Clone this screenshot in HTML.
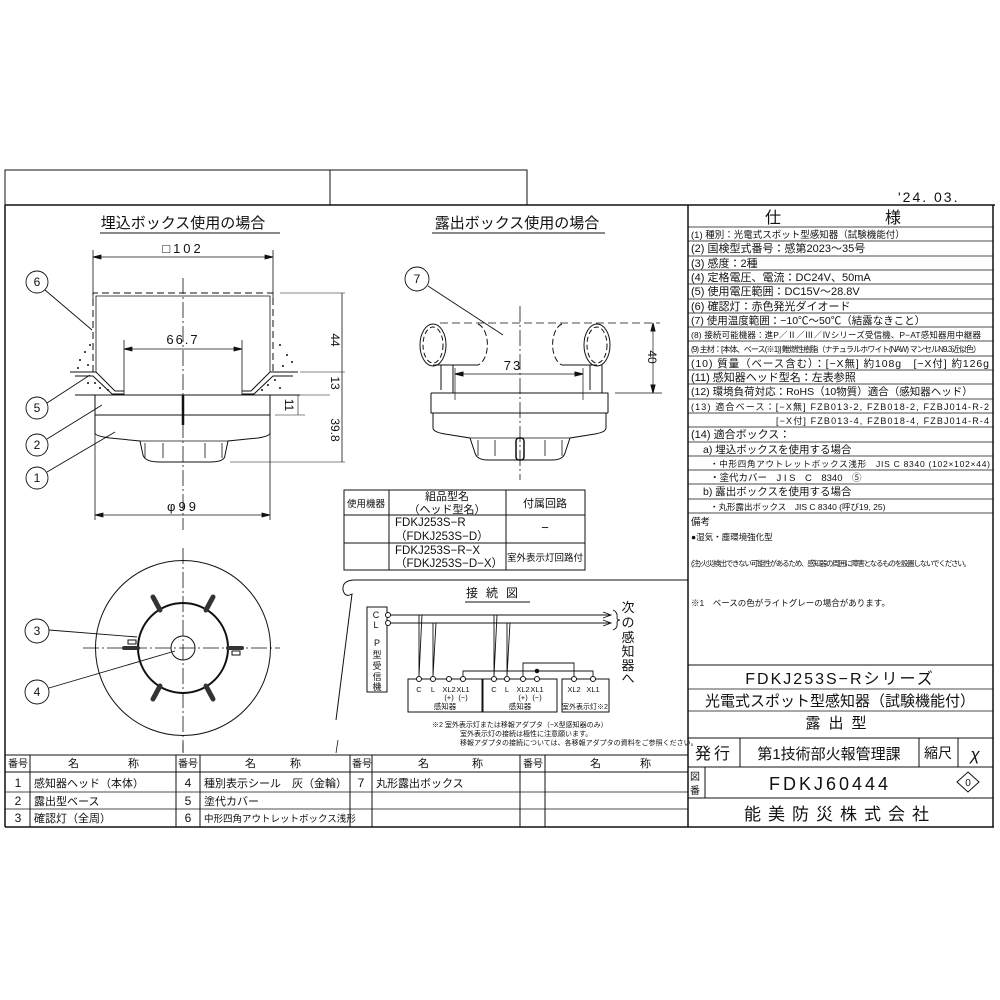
<!DOCTYPE html>
<html><head><meta charset="utf-8"><style>
html,body{margin:0;padding:0;background:#fff}
svg{display:block}
text{font-family:"Liberation Sans","Noto Sans CJK JP",sans-serif;fill:#111}
.s{font-size:10.5px}
.m{font-size:11px}
</style></head><body>
<svg width="1000" height="1000" viewBox="0 0 1000 1000" xmlns="http://www.w3.org/2000/svg" stroke="#111" fill="none" stroke-width="1">
<rect x="5" y="170" width="325" height="35"/>
<rect x="330" y="170" width="197" height="35"/>
<text x="898" y="202" font-size="14" stroke="none" letter-spacing="2">'24. 03.</text>
<line x1="5" y1="205" x2="995" y2="205" stroke-width="1.5"/>
<line x1="5" y1="205" x2="5" y2="827" stroke-width="1.5"/>
<line x1="5" y1="827" x2="994" y2="827" stroke-width="1.5"/>
<line x1="993" y1="205" x2="993" y2="827" stroke-width="1.5"/>
<line x1="688" y1="205" x2="688" y2="827" stroke-width="1.5"/>

<text x="765" y="223" font-size="16" stroke="none">仕</text>
<text x="885" y="223" font-size="16" stroke="none">様</text>
<g stroke-width="0.8">
<line x1="688" y1="227" x2="993" y2="227"/><line x1="688" y1="241" x2="993" y2="241"/><line x1="688" y1="256" x2="993" y2="256"/><line x1="688" y1="270" x2="993" y2="270"/><line x1="688" y1="284" x2="993" y2="284"/><line x1="688" y1="299" x2="993" y2="299"/><line x1="688" y1="313" x2="993" y2="313"/><line x1="688" y1="327" x2="993" y2="327"/><line x1="688" y1="341" x2="993" y2="341"/><line x1="688" y1="356" x2="993" y2="356"/><line x1="688" y1="370" x2="993" y2="370"/><line x1="688" y1="384" x2="993" y2="384"/><line x1="688" y1="399" x2="993" y2="399"/><line x1="688" y1="413" x2="993" y2="413"/><line x1="688" y1="427" x2="993" y2="427"/><line x1="688" y1="442" x2="993" y2="442"/><line x1="688" y1="456" x2="993" y2="456"/><line x1="688" y1="470" x2="993" y2="470"/><line x1="688" y1="484" x2="993" y2="484"/><line x1="688" y1="499" x2="993" y2="499"/><line x1="688" y1="513" x2="993" y2="513"/>
</g>
<g stroke="none" class="s">
<text x="691" y="238" font-size="9.5">(1) 種別：光電式スポット型感知器（試験機能付）</text>
<text x="691" y="252" font-size="11">(2) 国検型式番号：感第2023～35号</text>
<text x="691" y="267" font-size="11">(3) 感度：2種</text>
<text x="691" y="281" font-size="11">(4) 定格電圧、電流：DC24V、50mA</text>
<text x="691" y="295" font-size="11">(5) 使用電圧範囲：DC15V～28.8V</text>
<text x="691" y="310" font-size="11">(6) 確認灯：赤色発光ダイオード</text>
<text x="691" y="324">(7) 使用温度範囲：−10℃～50℃（結露なきこと）</text>
<text x="691" y="338" font-size="8.5" textLength="290">(8) 接続可能機器：進P／Ⅱ／Ⅲ／Ⅳシリーズ受信機、P−AT感知器用中継器</text>
<text x="691" y="352" font-size="8" textLength="290">(9) 主材：[本体、ベース(※1)] 難燃性樹脂（ナチュラルホワイト(NAW) マンセルN9.3近似色）</text>
<text x="691" y="367" textLength="298">(10) 質量（ベース含む）：[−X無] 約108g　[−X付] 約126g</text>
<text x="691" y="381" font-size="11">(11) 感知器ヘッド型名：左表参照</text>
<text x="691" y="395">(12) 環境負荷対応：RoHS（10物質）適合（感知器ヘッド）</text>
<text x="691" y="410" font-size="9" textLength="298">(13) 適合ベース：[−X無] FZB013-2, FZB018-2, FZBJ014-R-2</text>
<text x="776" y="424" font-size="9" textLength="213">[−X付] FZB013-4, FZB018-4, FZBJ014-R-4</text>
<text x="691" y="438" font-size="11">(14) 適合ボックス：</text>
<text x="703" y="453">a) 埋込ボックスを使用する場合</text>
<text x="710" y="467" font-size="8.5" textLength="280">・中形四角アウトレットボックス浅形　JIS C 8340 (102×102×44)</text>
<text x="710" y="481" font-size="9.5">・塗代カバー　J I S　C　8340　⑤</text>
<text x="703" y="495">b) 露出ボックスを使用する場合</text>
<text x="710" y="510" font-size="8.5">・丸形露出ボックス　JIS C 8340 (呼び19, 25)</text>
<text x="691" y="525" font-size="9.5">備考</text>
<text x="691" y="540" font-size="8.5">●湿気・塵環境強化型</text>
<text x="691" y="566" font-size="7.5" textLength="280">(注) 火災検出できない可能性があるため、感知器の周囲に障害となるものを設置しないでください。</text>
<text x="691" y="606" font-size="8.5">※1　ベースの色がライトグレーの場合があります。</text>
</g>
<g stroke-width="1">
<line x1="688" y1="665" x2="993" y2="665"/>
<line x1="688" y1="689" x2="993" y2="689" stroke-width="0.8"/>
<line x1="688" y1="711" x2="993" y2="711" stroke-width="0.8"/>
<line x1="688" y1="738" x2="993" y2="738"/>
<line x1="688" y1="767" x2="993" y2="767"/>
<line x1="688" y1="798" x2="993" y2="798"/>
<line x1="740" y1="738" x2="740" y2="767"/>
<line x1="919" y1="738" x2="919" y2="767"/>
<line x1="958" y1="738" x2="958" y2="767"/>
<line x1="705" y1="767" x2="705" y2="798"/>
<path d="M968 772 L979 782 L968 792 L957 782 Z"/>
</g>
<g stroke="none">
<text x="840" y="684" font-size="16" text-anchor="middle" letter-spacing="2">FDKJ253S−Rシリーズ</text>
<text x="840" y="706" font-size="15" text-anchor="middle">光電式スポット型感知器（試験機能付）</text>
<text x="840" y="728" font-size="15" text-anchor="middle" letter-spacing="8">露出型</text>
<text x="714" y="759" font-size="16" text-anchor="middle" letter-spacing="3">発行</text>
<text x="829" y="759" font-size="15" text-anchor="middle">第1技術部火報管理課</text>
<text x="938" y="758" font-size="14" text-anchor="middle">縮尺</text>
<text x="975" y="760" font-size="17" text-anchor="middle" font-style="italic">χ</text>
<text x="690" y="780" font-size="10">図</text>
<text x="690" y="794" font-size="10">番</text>
<text x="830" y="790" font-size="18" text-anchor="middle" letter-spacing="3">FDKJ60444</text>
<text x="968" y="786" font-size="10" text-anchor="middle">0</text>
<text x="840" y="820" font-size="17" text-anchor="middle" letter-spacing="7">能美防災株式会社</text>
</g>

<g stroke-width="1">
<line x1="5" y1="755" x2="688" y2="755"/>
<line x1="5" y1="772" x2="688" y2="772"/>
<line x1="5" y1="792" x2="688" y2="792" stroke-width="0.8"/>
<line x1="5" y1="809" x2="688" y2="809" stroke-width="0.8"/>
<line x1="30" y1="755" x2="30" y2="827"/><line x1="176" y1="755" x2="176" y2="827"/>
<line x1="200" y1="755" x2="200" y2="827"/><line x1="350" y1="755" x2="350" y2="827"/>
<line x1="372" y1="755" x2="372" y2="827"/><line x1="520" y1="755" x2="520" y2="827"/>
<line x1="545" y1="755" x2="545" y2="827"/>
</g>
<g stroke="none" class="m">
<text x="8" y="767" font-size="10">番号</text><text x="68" y="767">名</text><text x="128" y="767">称</text>
<text x="178" y="767" font-size="10">番号</text><text x="245" y="767">名</text><text x="290" y="767">称</text>
<text x="352" y="767" font-size="10">番号</text><text x="418" y="767">名</text><text x="472" y="767">称</text>
<text x="523" y="767" font-size="10">番号</text><text x="590" y="767">名</text><text x="640" y="767">称</text>
<text x="18" y="787" font-size="12" text-anchor="middle">1</text><text x="34" y="787">感知器ヘッド（本体）</text>
<text x="18" y="805" font-size="12" text-anchor="middle">2</text><text x="34" y="805">露出型ベース</text>
<text x="18" y="822" font-size="12" text-anchor="middle">3</text><text x="34" y="822">確認灯（全周）</text>
<text x="188" y="787" font-size="12" text-anchor="middle">4</text><text x="204" y="787">種別表示シール　灰（金輪）</text>
<text x="188" y="805" font-size="12" text-anchor="middle">5</text><text x="204" y="805">塗代カバー</text>
<text x="188" y="822" font-size="12" text-anchor="middle">6</text><text x="204" y="822" font-size="9.5">中形四角アウトレットボックス浅形</text>
<text x="361" y="787" font-size="12" text-anchor="middle">7</text><text x="376" y="787">丸形露出ボックス</text>
</g>

<g stroke="none">
<text x="183" y="228" font-size="15" text-anchor="middle">埋込ボックス使用の場合</text>
<text x="183" y="253" font-size="13" text-anchor="middle" letter-spacing="3">□102</text>
<text x="183" y="344" font-size="13" text-anchor="middle" letter-spacing="2">66.7</text>
<text x="183" y="511" font-size="13" text-anchor="middle" letter-spacing="3">φ99</text>
<text x="517" y="228" font-size="15" text-anchor="middle">露出ボックス使用の場合</text>
<text x="513" y="370" font-size="13" text-anchor="middle" letter-spacing="2">73</text>
</g>
<line x1="100" y1="233" x2="280" y2="233"/>
<line x1="432" y1="233" x2="605" y2="233"/>
<g stroke-width="0.8">
<line x1="93" y1="250" x2="93" y2="300"/><line x1="273" y1="250" x2="273" y2="300"/>
<line x1="93" y1="257" x2="273" y2="257"/>
<path d="M93 257 l8 -2 v4 z M273 257 l-8 -2 v4 z" fill="#111"/>
<line x1="124" y1="340" x2="124" y2="395"/><line x1="242" y1="340" x2="242" y2="395"/>
<line x1="124" y1="349" x2="242" y2="349"/>
<path d="M124 349 l8 -2 v4 z M242 349 l-8 -2 v4 z" fill="#111"/>
<line x1="95" y1="420" x2="95" y2="520"/><line x1="270" y1="420" x2="270" y2="520"/>
<line x1="95" y1="515" x2="270" y2="515"/>
<path d="M95 515 l8 -2 v4 z M270 515 l-8 -2 v4 z" fill="#111"/>
</g>
<path d="M93 372 V293 H273 V372" stroke-dasharray="7 4"/>
<path d="M96 372 V296 H270 V372" stroke-width="0.8"/>
<line x1="183" y1="278" x2="183" y2="530" stroke-dasharray="16 3 2 3" stroke-width="0.8"/>
<path d="M70 372 H96 L115 391 H124 M298 372 H270 L251 391 H242" />
<path d="M75 376 H93 L112 394 H124 M293 376 H273 L254 394 H242" />
<line x1="75" y1="395" x2="300" y2="395"/>
<line x1="300" y1="395" x2="330" y2="395" stroke-width="0.6"/>
<line x1="280" y1="293" x2="345" y2="293" stroke-width="0.6"/>
<line x1="300" y1="372" x2="345" y2="372" stroke-width="0.6"/>
<line x1="275" y1="415" x2="305" y2="415" stroke-width="0.6"/>
<line x1="230" y1="462" x2="345" y2="462" stroke-width="0.6"/>
<line x1="298" y1="395" x2="298" y2="415" stroke-width="0.6"/>
<line x1="342" y1="293" x2="342" y2="462" stroke-width="0.8"/>
<g stroke="none" fill="#111" font-size="12">
<text transform="translate(331,340) rotate(90)" text-anchor="middle">44</text>
<text transform="translate(331,383) rotate(90)" text-anchor="middle">13</text>
<text transform="translate(285,405) rotate(90)" text-anchor="middle">11</text>
<text transform="translate(331,430) rotate(90)" text-anchor="middle">39.8</text>
<text transform="translate(648,357) rotate(90)" text-anchor="middle">40</text>
</g>
<g fill="#111" stroke="none">
<circle cx="80" cy="360" r="1"/><circle cx="85" cy="352" r="1"/><circle cx="90" cy="345" r="1"/><circle cx="88" cy="365" r="1"/><circle cx="78" cy="368" r="1"/><circle cx="95" cy="383" r="1"/><circle cx="100" cy="388" r="1"/><circle cx="88" cy="383" r="1"/><circle cx="108" cy="390" r="1"/>
<circle cx="280" cy="345" r="1"/><circle cx="287" cy="355" r="1"/><circle cx="292" cy="362" r="1"/><circle cx="283" cy="366" r="1"/><circle cx="268" cy="385" r="1"/><circle cx="275" cy="380" r="1"/><circle cx="262" cy="390" r="1"/><circle cx="280" cy="388" r="1"/>
</g>
<path d="M95 395 V433 Q95 436 110 438 L140 441 L143 455 Q145 462 160 462 H210 Q225 462 225 455 L228 441 L258 438 Q270 436 270 433 V395"/>
<line x1="95" y1="415" x2="270" y2="415"/>
<path d="M140 441 H228 M145 443 V458 M222 443 V458 M163 443 V458 M205 443 V458" stroke-width="0.8"/>
<line x1="183" y1="395" x2="183" y2="425" stroke-width="2.5"/>
<g stroke-width="0.9">
<circle cx="37" cy="282" r="11"/><line x1="45" y1="290" x2="92" y2="330"/>
<circle cx="37" cy="408" r="11"/><line x1="47" y1="403" x2="90" y2="375"/>
<circle cx="37" cy="445" r="11"/><line x1="47" y1="439" x2="102" y2="405"/>
<circle cx="37" cy="478" r="11"/><line x1="47" y1="472" x2="115" y2="432"/>
<circle cx="37" cy="631" r="12"/><line x1="49" y1="630" x2="137" y2="637"/>
<circle cx="37" cy="692" r="12"/><line x1="49" y1="688" x2="175" y2="651"/>
<circle cx="417" cy="279" r="12"/><line x1="428" y1="286" x2="503" y2="335"/>
</g>
<g stroke="none" font-size="12" text-anchor="middle" font-family="Liberation Serif">
<text x="37" y="286">6</text><text x="37" y="412">5</text><text x="37" y="449">2</text><text x="37" y="482">1</text>
<text x="37" y="635">3</text><text x="37" y="696">4</text><text x="417" y="283">7</text>
</g>

<circle cx="183" cy="648" r="87.5"/>
<circle cx="183" cy="648" r="45" stroke-width="2"/>
<circle cx="183" cy="648" r="12"/>
<line x1="83" y1="648" x2="280" y2="648" stroke-dasharray="16 3 2 3" stroke-width="0.8"/>
<line x1="183" y1="548" x2="183" y2="752" stroke-dasharray="16 3 2 3" stroke-width="0.8"/>
<g stroke-width="5" stroke-linecap="round" stroke="#333">
<line x1="160" y1="610" x2="153" y2="597"/><line x1="206" y1="610" x2="213" y2="597"/>
<line x1="160" y1="686" x2="153" y2="699"/><line x1="206" y1="686" x2="213" y2="699"/>
<line x1="138" y1="648" x2="124" y2="648" stroke-width="4"/><line x1="228" y1="648" x2="242" y2="648" stroke-width="4"/>
</g>
<rect x="128" y="640" width="8" height="4"/><rect x="232" y="651" width="8" height="4"/>

<line x1="520" y1="306" x2="520" y2="480" stroke-dasharray="16 3 2 3" stroke-width="0.8"/>
<line x1="440" y1="323" x2="660" y2="323" stroke-dasharray="8 4" stroke-width="0.8"/>
<ellipse cx="433" cy="345" rx="13" ry="21"/>
<ellipse cx="433" cy="345" rx="10" ry="18" stroke-dasharray="5 3"/>
<path d="M478 324 A12 21 0 0 1 478 365" stroke-dasharray="6 3"/>
<line x1="433" y1="365" x2="478" y2="365"/>
<ellipse cx="597" cy="345" rx="13" ry="21"/>
<ellipse cx="597" cy="345" rx="10" ry="18" stroke-dasharray="5 3"/>
<path d="M562 324 A12 21 0 0 0 562 365" stroke-dasharray="6 3"/>
<line x1="562" y1="365" x2="597" y2="365"/>
<path d="M441 365 V390 M453 365 V393 M590 365 V390 M602 365 V393"/>
<line x1="455" y1="368" x2="455" y2="400" stroke-width="0.7"/><line x1="583" y1="368" x2="583" y2="400" stroke-width="0.7"/>
<line x1="455" y1="374" x2="583" y2="374" stroke-width="0.7"/>
<path d="M455 374 l8 -2 v4 z M583 374 l-8 -2 v4 z" fill="#111"/>
<line x1="615" y1="393" x2="662" y2="393" stroke-width="0.7"/>
<line x1="653" y1="323" x2="653" y2="393" stroke-width="0.7"/>
<path d="M653 323 l-2 8 h4 z M653 393 l-2 -8 h4 z" fill="#111"/>
<path d="M431 393 H608 V413 M431 393 V413 H608"/>
<path d="M433 413 V428 Q433 432 445 434 L470 438 L475 453 Q477 460 488 460 H552 Q563 460 565 453 L570 438 L595 434 Q606 432 606 428 V413"/>
<path d="M470 438 H570 M478 440 V456 M562 440 V456 M495 440 V456 M545 440 V456" stroke-width="0.8"/>
<rect x="516" y="438" width="8" height="22" rx="3" stroke-width="1.5"/>

<rect x="344" y="490" width="241" height="80"/>
<line x1="344" y1="515" x2="585" y2="515"/><line x1="344" y1="543" x2="585" y2="543"/>
<line x1="389" y1="490" x2="389" y2="570"/><line x1="506" y1="490" x2="506" y2="570"/>
<g stroke="none" class="m">
<text x="347" y="507" font-size="9.5">使用機器</text>
<text x="447" y="500" text-anchor="middle">組品型名</text>
<text x="447" y="513" text-anchor="middle">（ヘッド型名）</text>
<text x="545" y="507" text-anchor="middle">付属回路</text>
<text x="395" y="526" font-size="11.5">FDKJ253S−R</text>
<text x="395" y="540" font-size="11.5">（FDKJ253S−D）</text>
<text x="545" y="532" text-anchor="middle" font-size="13">−</text>
<text x="395" y="554" font-size="11.5">FDKJ253S−R−X</text>
<text x="395" y="567" font-size="11.5">（FDKJ253S−D−X）</text>
<text x="545" y="561" text-anchor="middle" font-size="9.5">室外表示灯回路付</text>
</g>

<path d="M355 580 H688"/>
<path d="M355 580 Q342 580 343 590 Q345 598 352 594 L336 720" stroke-width="1"/>
<text x="496" y="597" font-size="12" text-anchor="middle" stroke="none" letter-spacing="8">接続図</text>
<line x1="465" y1="602" x2="530" y2="602"/>
<rect x="367" y="607" width="20" height="85"/>
<g stroke="none" font-size="9" text-anchor="middle">
<text x="376" y="618">C</text><text x="376" y="628">L</text>
<text x="377" y="646">P</text><text x="377" y="658">型</text><text x="377" y="669">受</text><text x="377" y="680">信</text><text x="377" y="690">機</text>
</g>
<g stroke-width="0.9">
<line x1="390" y1="615" x2="610" y2="615"/><line x1="390" y1="623" x2="610" y2="623"/>
<path d="M603 612 L611 615 L603 618 M603 620 L611 623 L603 626"/>
<path d="M613 610 Q618 612 617 618 Q617 620 620 620 Q617 620 617 623 Q618 628 613 630"/>
<path d="M419 615 V676 M422 615 L419 676"/>
<path d="M433 623 V676 M436 623 L433 676"/>
<path d="M494 615 V676 M497 615 L494 676"/>
<path d="M507 623 V676 M510 623 L507 676"/>
<path d="M463 676 V671 H593 V676"/>
<path d="M523 676 V663 H574 V676"/>
</g>
<circle cx="537" cy="671" r="1.8" fill="#111"/>
<g fill="#fff" stroke-width="1">
<circle cx="388" cy="615" r="2.5"/><circle cx="388" cy="623" r="2.5"/>
</g>
<rect x="408" y="679" width="74" height="33"/>
<rect x="483" y="679" width="74" height="33"/>
<rect x="562" y="679" width="47" height="33"/>
<g fill="#fff">
<circle cx="419" cy="679" r="2.5"/><circle cx="433" cy="679" r="2.5"/><circle cx="449" cy="679" r="2.5"/><circle cx="463" cy="679" r="2.5"/>
<circle cx="494" cy="679" r="2.5"/><circle cx="507" cy="679" r="2.5"/><circle cx="523" cy="679" r="2.5"/><circle cx="537" cy="679" r="2.5"/>
<circle cx="574" cy="679" r="2.5"/><circle cx="593" cy="679" r="2.5"/>
</g>
<g stroke="none" font-size="7.5" text-anchor="middle">
<text x="419" y="692">C</text><text x="433" y="692">L</text><text x="449" y="692">XL2</text><text x="463" y="692">XL1</text>
<text x="449" y="700">(+)</text><text x="463" y="700">(−)</text><text x="445" y="709">感知器</text>
<text x="494" y="692">C</text><text x="507" y="692">L</text><text x="523" y="692">XL2</text><text x="537" y="692">XL1</text>
<text x="523" y="700">(+)</text><text x="537" y="700">(−)</text><text x="520" y="709">感知器</text>
<text x="574" y="692">XL2</text><text x="593" y="692">XL1</text><text x="585" y="709" font-size="7">室外表示灯※2</text>
</g>
<g stroke="none" font-size="13" text-anchor="middle">
<text x="628" y="612">次</text><text x="628" y="627">の</text><text x="628" y="642">感</text><text x="628" y="656">知</text><text x="628" y="670">器</text><text x="628" y="683">へ</text>
</g>
<g stroke="none" font-size="7">
<text x="432" y="727">※2 室外表示灯または移報アダプタ（−X型感知器のみ）</text>
<text x="460" y="736">室外表示灯の接続は極性に注意願います。</text>
<text x="460" y="745">移報アダプタの接続については、各移報アダプタの資料をご参照ください。</text>
</g>
<line x1="183" y1="743" x2="183" y2="753" stroke-width="0.8"/>
<line x1="338" y1="740" x2="336" y2="753" stroke-width="0.8"/>
</svg>
</body></html>
